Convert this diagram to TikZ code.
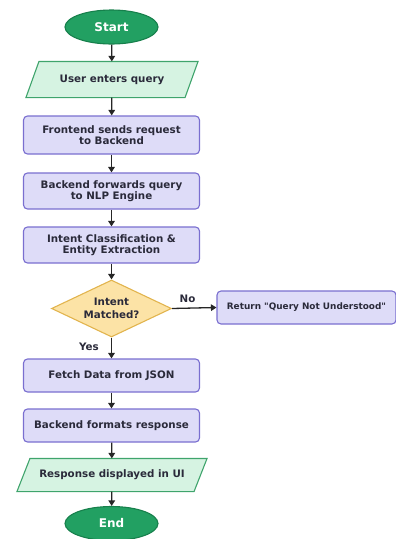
\documentclass[tikz,border=0pt]{standalone}
\usepackage{fontspec}
\setmainfont{DejaVu Sans}[Ligatures=TeXOff]
\usetikzlibrary{shapes.geometric,arrows.meta}
\definecolor{termfill}{HTML}{22A062}
\definecolor{termdraw}{HTML}{17804C}
\definecolor{iofill}{HTML}{D6F3E2}
\definecolor{iodraw}{HTML}{3FA46C}
\definecolor{procfill}{HTML}{DEDCF8}
\definecolor{procdraw}{HTML}{7A6FD0}
\definecolor{decfill}{HTML}{FCE3A6}
\definecolor{decdraw}{HTML}{E2B44E}
\definecolor{txt}{HTML}{2A2A3A}
\tikzset{
  base/.style={font=\fontsize{10.3}{11.5}\selectfont\bfseries, text=txt, align=center, inner sep=0pt, line width=1.1pt},
  term/.style={base, ellipse, fill=termfill, draw=termdraw, text=white, minimum width=93pt, minimum height=34pt, font=\fontsize{12}{14}\selectfont\bfseries},
  iotext/.style={base, minimum height=#1},
  proc/.style={base, rectangle, rounded corners=4pt, fill=procfill, draw=procdraw, minimum width=176pt},
  dec/.style={base, diamond, fill=decfill, draw=decdraw, minimum width=120pt, minimum height=57pt, aspect=2.1, font=\fontsize{10.3}{13.5}\selectfont\bfseries},
  arr/.style={-{Triangle[length=5.5pt,width=6.5pt]}, line width=1.3pt, draw=black!85},
  lbl/.style={font=\fontsize{10.3}{11.5}\selectfont\bfseries, text=txt, inner sep=0pt},
}
\begin{document}
\begin{tikzpicture}[x=1pt,y=1pt]
\useasboundingbox (0,0) rectangle (396,-539);
\node[term] (start) at (111.5,-27) {Start};
\node[iotext=35pt, minimum width=158pt] (in) at (112,-79.5) {User enters query};
\fill[iofill, draw=iodraw, line width=1.1pt] ([xshift=-6.5pt]in.south west) -- ([xshift=6.5pt]in.north west) -- ([xshift=6.5pt]in.north east) -- ([xshift=-6.5pt]in.south east) -- cycle;
\node[iotext=35pt, minimum width=158pt] at (in) {User enters query};
\node[proc, minimum height=38pt] (b1) at (111.5,-135) {Frontend sends request\\to Backend};
\node[proc, minimum height=36pt] (b2) at (111.5,-191) {Backend forwards query\\to NLP Engine};
\node[proc, minimum height=36pt] (b3) at (111.5,-245) {Intent Classification \&\\Entity Extraction};
\node[dec] (d) at (111.5,-308.5) {Intent\\Matched?};
\node[proc, minimum height=33pt, minimum width=179pt, font=\fontsize{8.9}{11}\selectfont\bfseries] (ret) at (306.5,-307.5) {Return "Query Not Understood"};
\node[proc, minimum height=33pt] (f) at (111.5,-375.5) {Fetch Data from JSON};
\node[proc, minimum height=33pt] (fm) at (111.5,-425.5) {Backend formats response};
\node[iotext=32pt, minimum width=176pt] (out) at (112,-475) {Response displayed in UI};
\fill[iofill, draw=iodraw, line width=1.1pt] ([xshift=-6.5pt]out.south west) -- ([xshift=6.5pt]out.north west) -- ([xshift=6.5pt]out.north east) -- ([xshift=-6.5pt]out.south east) -- cycle;
\node[iotext=32pt, minimum width=176pt] at (out) {Response displayed in UI};
\node[term] (end) at (111.5,-523.5) {End};
\draw[arr] (start) -- (in);
\draw[arr] (in) -- (b1);
\draw[arr] (b1) -- (b2);
\draw[arr] (b2) -- (b3);
\draw[arr] (b3) -- (d);
\draw[arr] (d.east) -- node[lbl, above=5pt, pos=0.35] {No} (ret.west);
\draw[arr] (d.south) -- node[lbl, left=12pt, pos=0.45] {Yes} (f.north);
\draw[arr] (f) -- (fm);
\draw[arr] (fm) -- (out);
\draw[arr] (out) -- (end);
\end{tikzpicture}
\end{document}
